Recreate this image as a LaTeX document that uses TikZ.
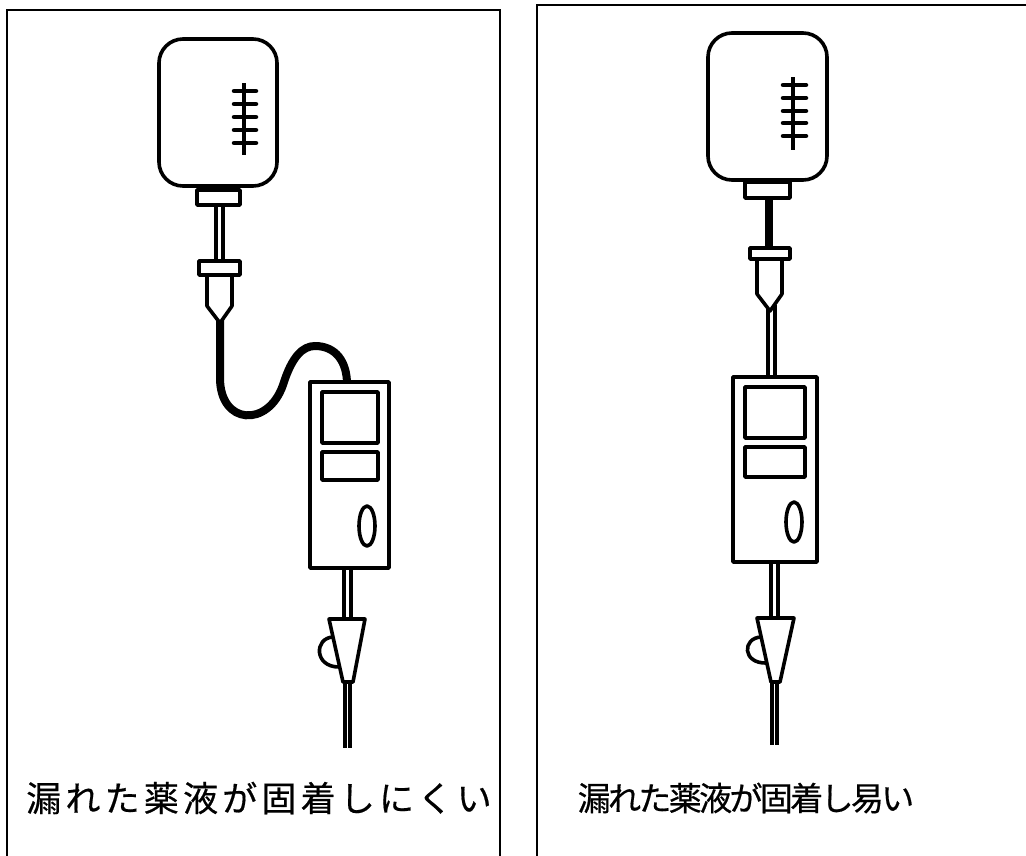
\documentclass[tikz,border=0pt]{standalone}
\usepackage{fontspec}
\newfontfamily\jpfont{Noto Sans CJK JP}
\tikzset{
   panel/.style={draw=black, line width=2.8pt},
   outline/.style={draw=black, fill=white, line width=3.6pt, line join=round},
   bag/.style={outline, rounded corners=24pt},
   scale mark/.style={draw=black, line width=4.5pt, line cap=round},
   tube/.style={draw=black, line width=4pt, double=white, double distance=3pt},
   thin tube/.style={draw=black, line width=3.6pt, double=white, double distance=1.6pt},
   hose/.style={draw=black, line width=8pt},
   caption/.style={inner sep=0pt},
   }

\begin{document}
\begin{tikzpicture}[x=1pt, y=-1pt]
            \useasboundingbox (0,0) rectangle (1026,855);
            \clip (0,0) rectangle (1026,855);
            % frames
            \draw[panel](7,870) -- (7,10) -- (500,10) -- (500,870);
            \draw[panel](537,870) -- (537,5) -- (1040,5);

            % left: bag, chamber, bent line, pump
            \draw[tube](219.5,203) -- (219.5,262);
            \draw[bag](159,39) rectangle (277,186);
            \draw[outline](197,190) rectangle (240,205);
            \draw[line width=4pt](244,83) -- (244,155);
            \foreach \y in {91,104,117,130,143}
               \draw[scale mark](234,\y) -- (256,\y);
            \draw[hose](220,318) -- (220,378) .. controls (220,425) and (268,428) .. (283,385)
               .. controls (292,356) and (303,346) .. (315,346)
               .. controls (336,346) and (347,362) .. (347,384);
            \draw[outline](207,274) -- (207,306) -- (220,323) -- (232,306) -- (232,274);
            \draw[outline](199,261) rectangle (240,275);
            \draw[tube](347.5,566) -- (347.5,621);
            \draw[thin tube](347.5,680) -- (347.5,748);
            \draw[outline](310,382) rectangle (389,568);
            \draw[outline](322,392) rectangle (378,443);
            \draw[outline](322,452) rectangle (378,480);
            \draw[outline](367,526) ellipse (8 and 20);
            \draw[outline](333,637) .. controls (314,638) and (314,667) .. (339,667);
            \draw[outline](329,619) -- (365,619) -- (353,682) -- (343,682) -- cycle;

            % right: bag, chamber, straight line, pump
            \draw[hose](769,196) -- (769,250);
            \draw[bag](708,33) rectangle (827,180);
            \draw[outline](745,182) rectangle (790,198);
            \draw[line width=4pt](793,77) -- (793,150);
            \foreach \y in {85,98,111,123,136}
               \draw[scale mark](783,\y) -- (806,\y);
            \draw[tube](771,305) -- (771,379);
            \draw[outline](757,258) -- (757,294) -- (770,311) -- (782,294) -- (782,258);
            \draw[outline](750,248) rectangle (790,259);
            \draw[tube](774,560) -- (774,620);
            \draw[thin tube](774.5,680) -- (774.5,745);
            \draw[outline](733,377) rectangle (817,562);
            \draw[outline](745,387) rectangle (805,438);
            \draw[outline](745,447) rectangle (805,477);
            \draw[outline](794,522) ellipse (8 and 20);
            \draw[outline](761,637) .. controls (742,638) and (742,664) .. (767,663);
            \draw[outline](757,618) -- (794,618) -- (780,682) -- (771,682) -- cycle;

            \node[caption, font=\jpfont\addfontfeature{LetterSpace=12,FakeBold=0.5}\fontsize{35}{37}\selectfont]
               (hard) at (259,798) {漏れた薬液が固着しにくい};
            \node[caption, font=\jpfont\addfontfeature{LetterSpace=-8,FakeBold=0.5}\fontsize{33}{35}\selectfont]
               (easy) at (746,798) {漏れた薬液が固着し易い};
        \end{tikzpicture}
\end{document}
